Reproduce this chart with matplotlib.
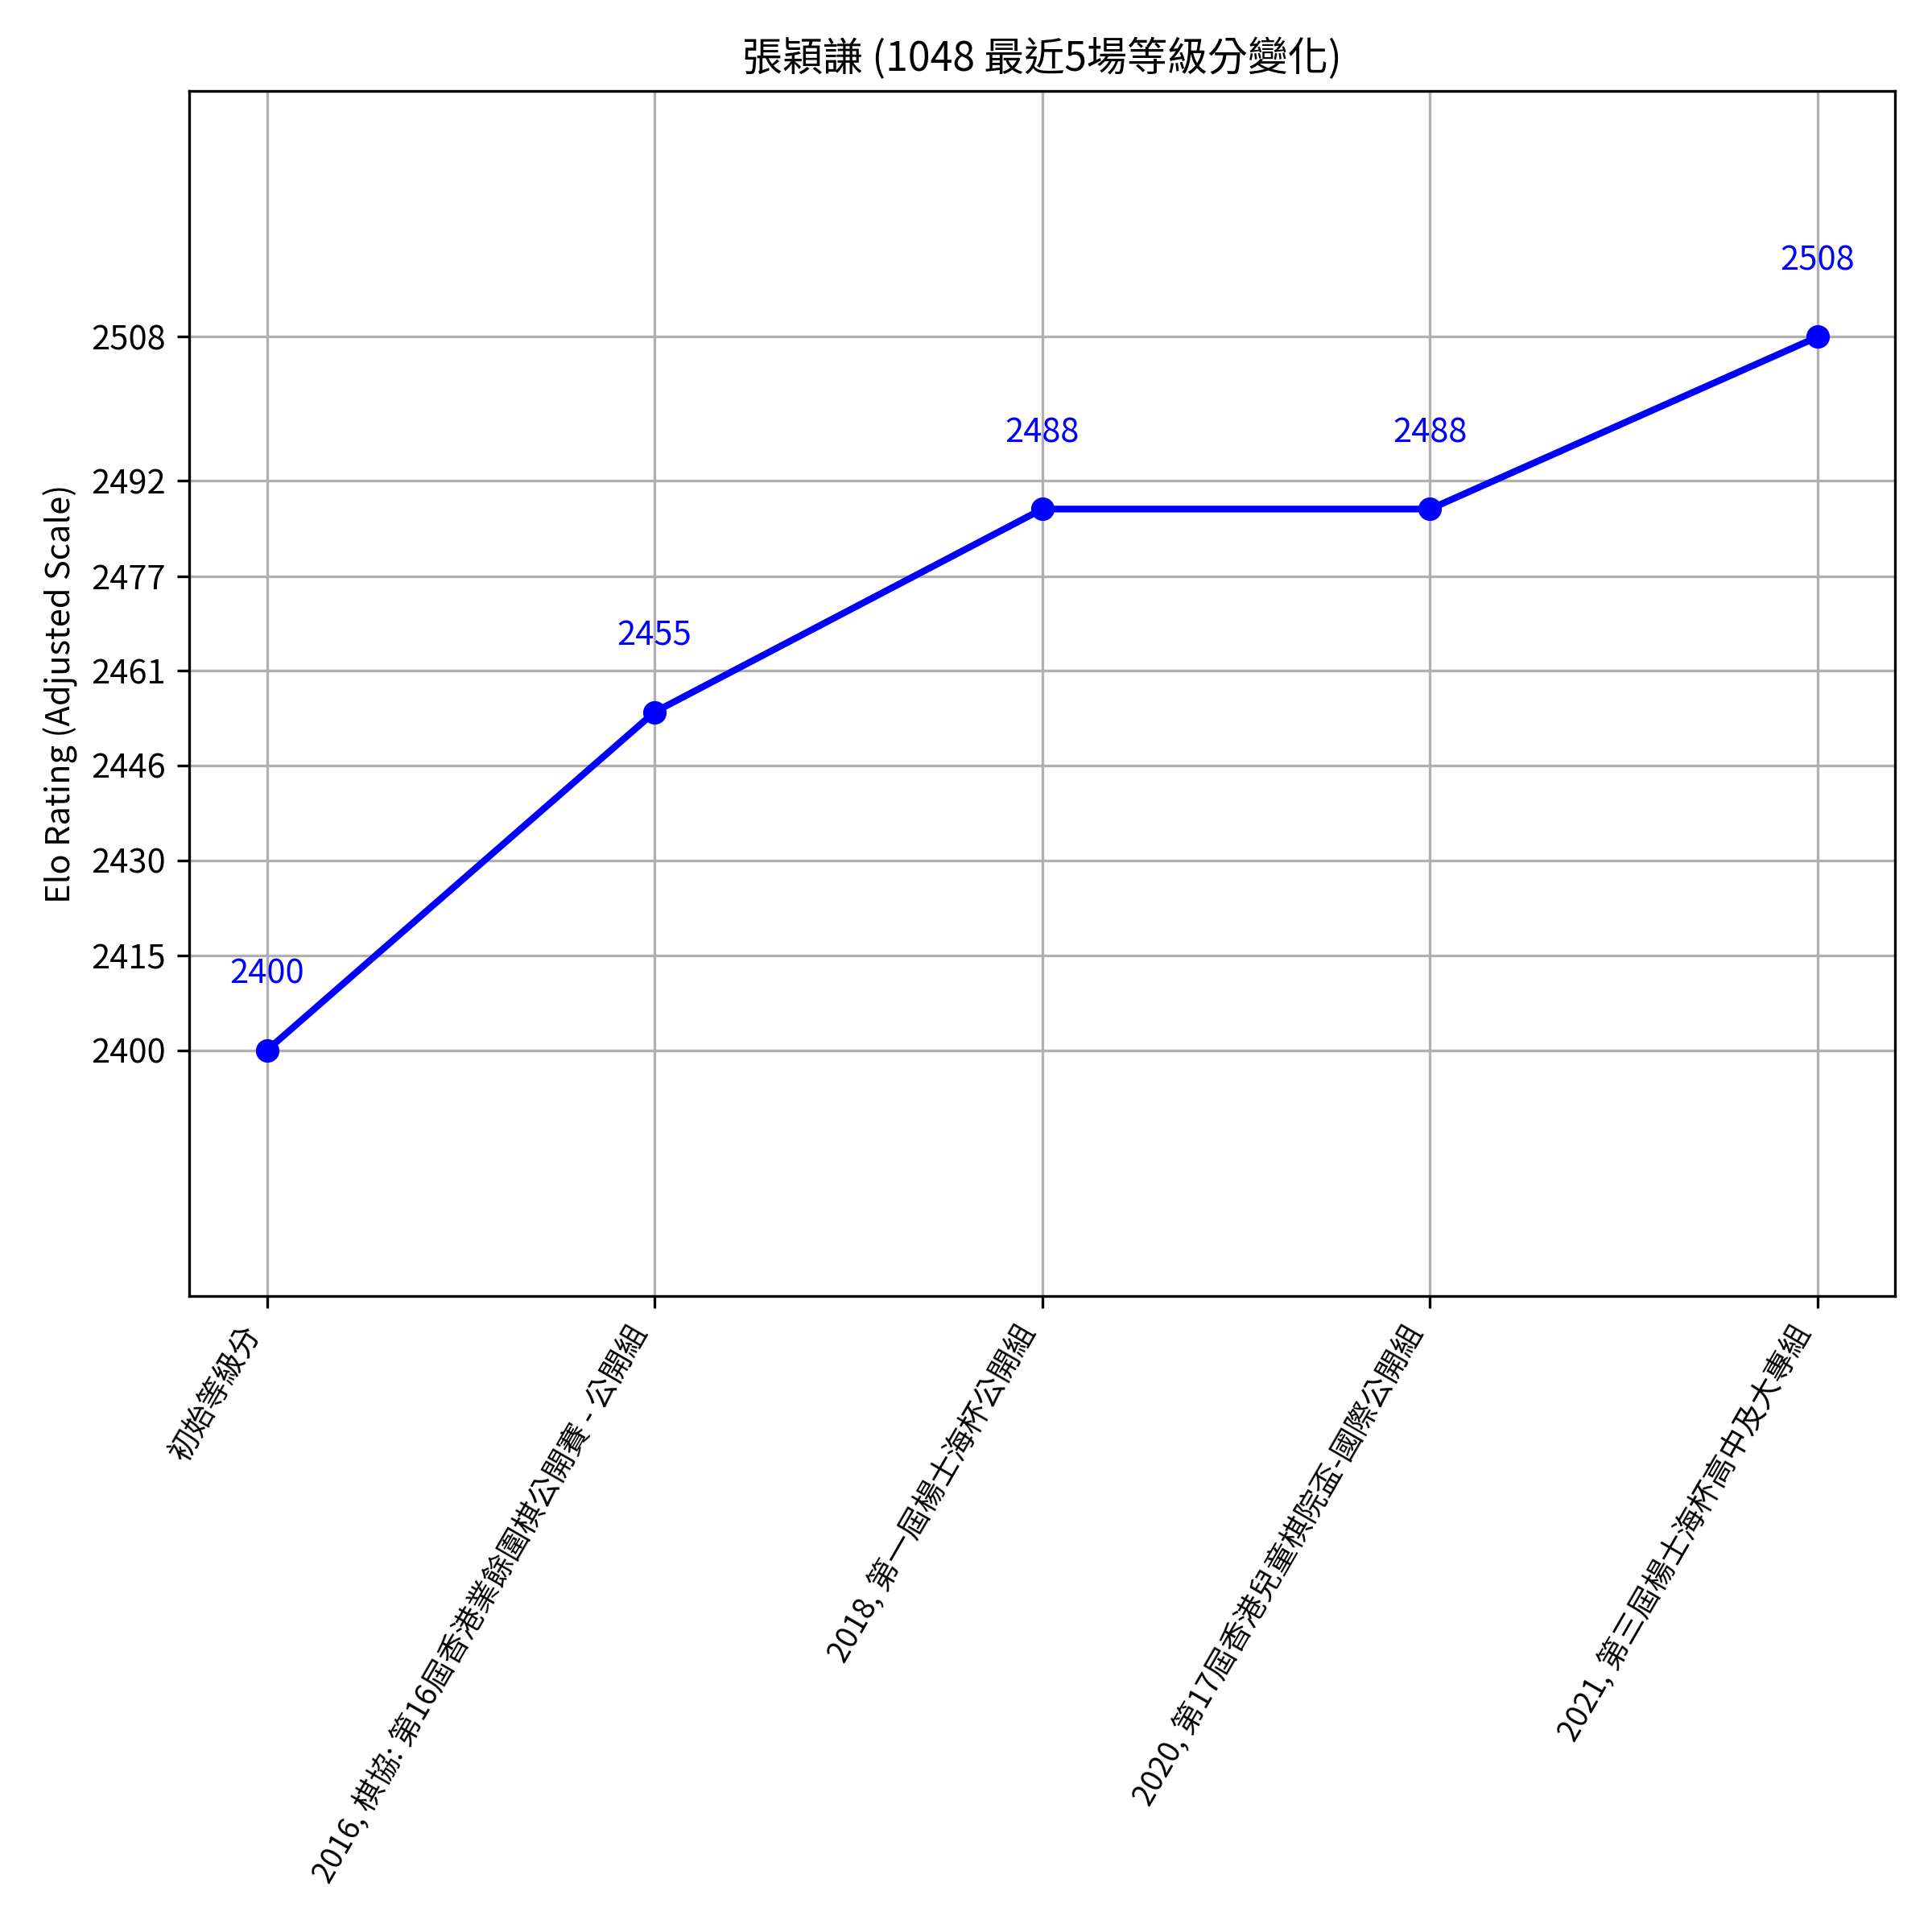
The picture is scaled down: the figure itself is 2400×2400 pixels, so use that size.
#!/usr/bin/env python3
# -*- coding: utf-8 -*-

import matplotlib
matplotlib.use("Agg")
import matplotlib.pyplot as plt

plt.rcParams['font.family'] = ['Noto Sans CJK TC', 'DejaVu Sans']

# data
player_title = "張穎謙 (1048 最近5場等級分變化)"
events = [
    "初始等級分",
    "2016, 棋協: 第16屆香港業餘圍棋公開賽 - 公開組",
    "2018, 第一屆楊士海杯公開組",
    "2020, 第17屆香港兒童棋院盃-國際公開組",
    "2021, 第三屆楊士海杯高中及大專組",
]
ratings = [2400, 2455, 2488, 2488, 2508]
# positions on the "adjusted" scale (top point is stretched upwards)
adjusted = [2400, 2455, 2488, 2488, 2516]
ytick_pos = [2400, 2415.4, 2430.9, 2446.3, 2461.7, 2477.1, 2492.6, 2516]
ytick_labels = ["2400", "2415", "2430", "2446", "2461", "2477", "2492", "2508"]


def plot(savename: str = "out.png") -> None:
    fig, ax = plt.subplots(figsize=(8, 8), dpi=300)

    x = list(range(len(events)))
    ax.plot(x, adjusted, marker='o', color='blue', linewidth=2, markersize=6)

    # value labels above each point
    for xi, yi, r in zip(x, adjusted, ratings):
        ax.annotate(str(r), (xi, yi), xytext=(0, 20), textcoords='offset points',
                    ha='center', color='blue', fontsize=10)

    ax.set_yticks(ytick_pos)
    ax.set_yticklabels(ytick_labels, fontsize=10)
    pad = 40
    ax.set_ylim(min(adjusted) - pad, max(adjusted) + pad)

    ax.set_xticks(x)
    ax.set_xticklabels(events, rotation=60, ha='right', fontsize=9)

    ax.set_title(player_title, fontsize=12)
    ax.set_ylabel('Elo Rating (Adjusted Scale)', fontsize=10)
    ax.grid(True)

    fig.subplots_adjust(left=0.098, right=0.981, top=0.953, bottom=0.329)
    fig.savefig(savename, dpi=300)


if __name__ == "__main__":
    plot()
